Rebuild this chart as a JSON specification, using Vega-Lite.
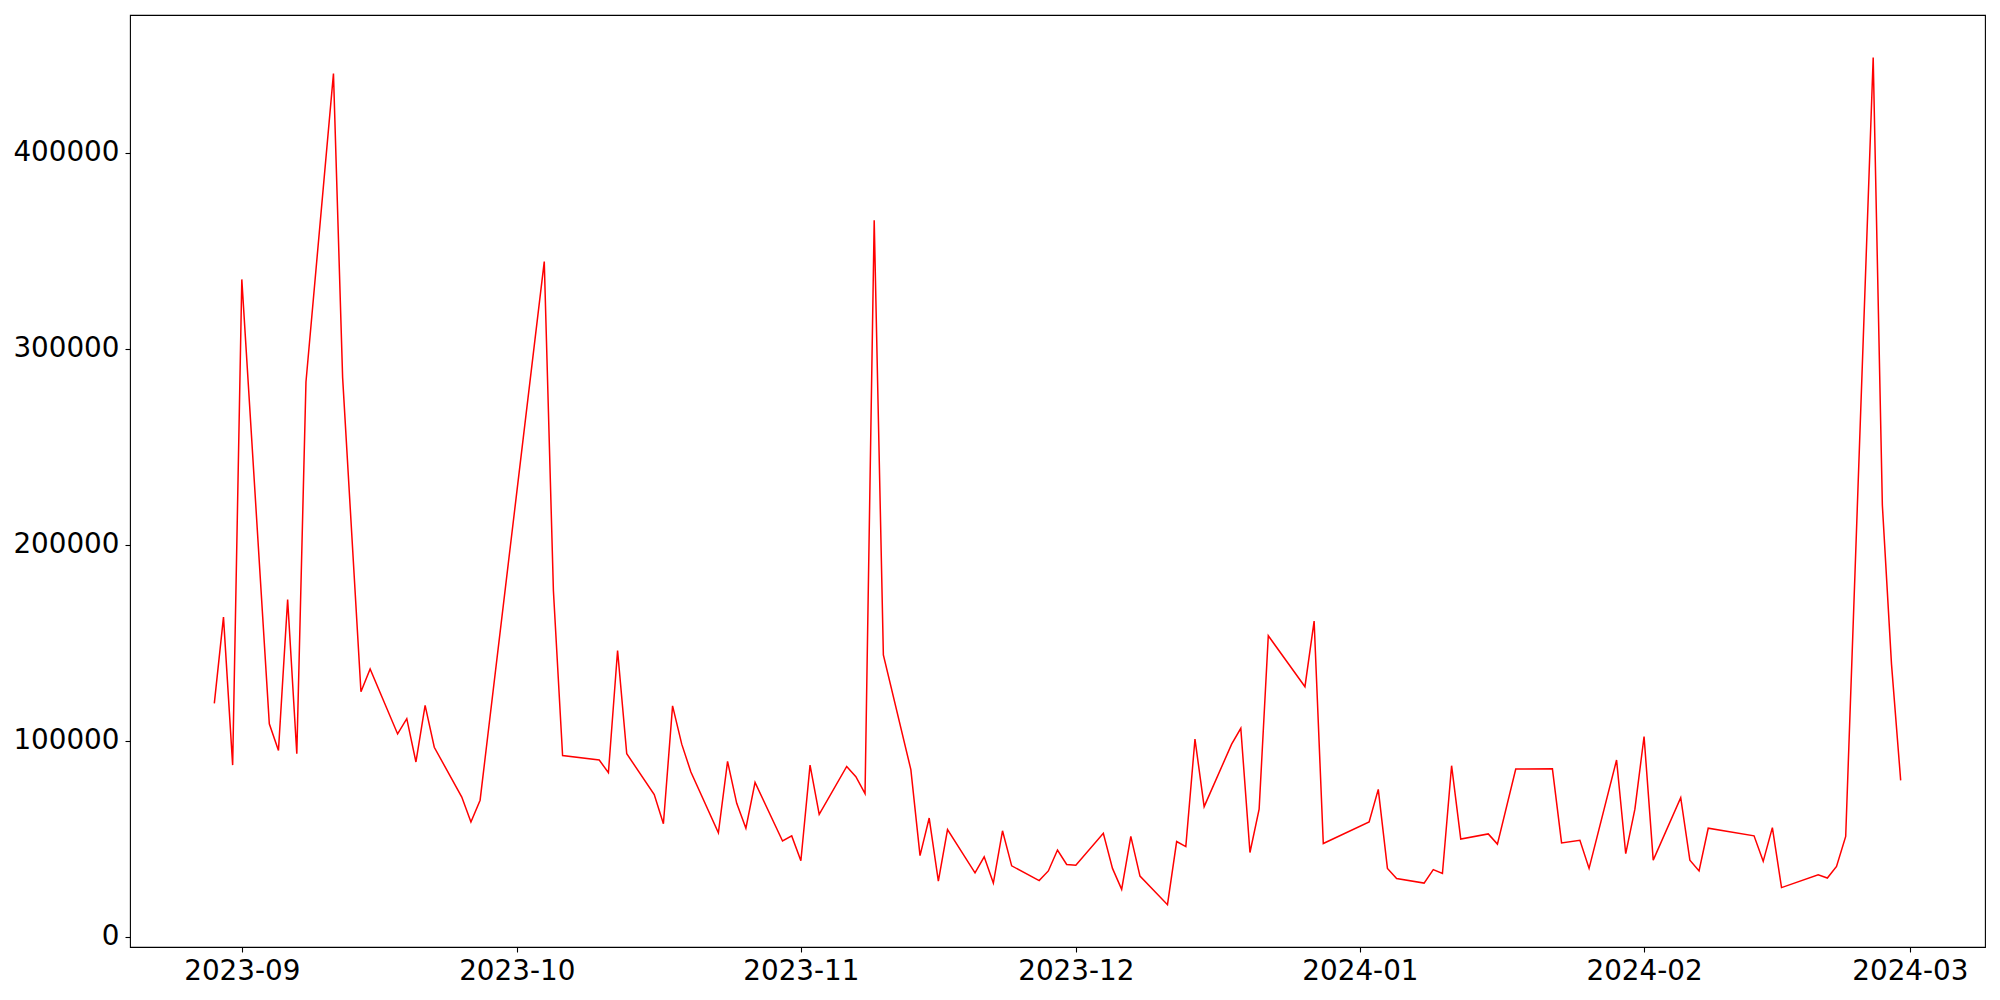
{
  "$schema": "https://vega.github.io/schema/vega-lite/v6.json",
  "width": 1855,
  "height": 932,
  "autosize": {"type": "none"},
  "padding": {"left": 130, "top": 15, "right": 15, "bottom": 53},
  "background": "white",
  "config": {
    "view": {"stroke": "black", "strokeWidth": 1.1},
    "axis": {
      "grid": false,
      "domain": false,
      "labelFont": "DejaVu Sans",
      "labelFontSize": 27.8,
      "labelColor": "black",
      "tickColor": "black",
      "tickWidth": 1.1,
      "tickSize": 5,
      "title": null
    }
  },
  "data": {
    "values": [
      {"date": "2023-08-29", "value": 119000},
      {"date": "2023-08-30", "value": 163000},
      {"date": "2023-08-31", "value": 87500},
      {"date": "2023-09-01", "value": 335300},
      {"date": "2023-09-04", "value": 108600},
      {"date": "2023-09-05", "value": 95000},
      {"date": "2023-09-06", "value": 172000},
      {"date": "2023-09-07", "value": 93300},
      {"date": "2023-09-08", "value": 283000},
      {"date": "2023-09-11", "value": 440300},
      {"date": "2023-09-12", "value": 285200},
      {"date": "2023-09-14", "value": 124900},
      {"date": "2023-09-15", "value": 136600},
      {"date": "2023-09-18", "value": 103400},
      {"date": "2023-09-19", "value": 111200},
      {"date": "2023-09-20", "value": 89100},
      {"date": "2023-09-21", "value": 118000},
      {"date": "2023-09-22", "value": 96600},
      {"date": "2023-09-25", "value": 71200},
      {"date": "2023-09-26", "value": 58500},
      {"date": "2023-09-27", "value": 69600},
      {"date": "2023-10-04", "value": 344400},
      {"date": "2023-10-05", "value": 176300},
      {"date": "2023-10-06", "value": 92400},
      {"date": "2023-10-10", "value": 90100},
      {"date": "2023-10-11", "value": 83600},
      {"date": "2023-10-12", "value": 146000},
      {"date": "2023-10-13", "value": 93300},
      {"date": "2023-10-16", "value": 72500},
      {"date": "2023-10-17", "value": 57600},
      {"date": "2023-10-18", "value": 117700},
      {"date": "2023-10-19", "value": 98200},
      {"date": "2023-10-20", "value": 84000},
      {"date": "2023-10-23", "value": 53000},
      {"date": "2023-10-24", "value": 89400},
      {"date": "2023-10-25", "value": 68000},
      {"date": "2023-10-26", "value": 55300},
      {"date": "2023-10-27", "value": 78700},
      {"date": "2023-10-30", "value": 48800},
      {"date": "2023-10-31", "value": 51400},
      {"date": "2023-11-01", "value": 38700},
      {"date": "2023-11-02", "value": 87500},
      {"date": "2023-11-03", "value": 62400},
      {"date": "2023-11-06", "value": 86800},
      {"date": "2023-11-07", "value": 81600},
      {"date": "2023-11-08", "value": 72900},
      {"date": "2023-11-09", "value": 365500},
      {"date": "2023-11-10", "value": 143700},
      {"date": "2023-11-13", "value": 85200},
      {"date": "2023-11-14", "value": 41300},
      {"date": "2023-11-15", "value": 60500},
      {"date": "2023-11-16", "value": 28300},
      {"date": "2023-11-17", "value": 54600},
      {"date": "2023-11-20", "value": 32500},
      {"date": "2023-11-21", "value": 40700},
      {"date": "2023-11-22", "value": 27300},
      {"date": "2023-11-23", "value": 54000},
      {"date": "2023-11-24", "value": 36100},
      {"date": "2023-11-27", "value": 28600},
      {"date": "2023-11-28", "value": 33500},
      {"date": "2023-11-29", "value": 44200},
      {"date": "2023-11-30", "value": 36800},
      {"date": "2023-12-01", "value": 36400},
      {"date": "2023-12-04", "value": 52700},
      {"date": "2023-12-05", "value": 34800},
      {"date": "2023-12-06", "value": 24100},
      {"date": "2023-12-07", "value": 51100},
      {"date": "2023-12-08", "value": 30900},
      {"date": "2023-12-11", "value": 16300},
      {"date": "2023-12-12", "value": 48500},
      {"date": "2023-12-13", "value": 45900},
      {"date": "2023-12-14", "value": 100800},
      {"date": "2023-12-15", "value": 66300},
      {"date": "2023-12-18", "value": 98200},
      {"date": "2023-12-19", "value": 106300},
      {"date": "2023-12-20", "value": 42900},
      {"date": "2023-12-21", "value": 65000},
      {"date": "2023-12-22", "value": 153500},
      {"date": "2023-12-26", "value": 127500},
      {"date": "2023-12-27", "value": 161000},
      {"date": "2023-12-28", "value": 47500},
      {"date": "2024-01-02", "value": 58500},
      {"date": "2024-01-03", "value": 75100},
      {"date": "2024-01-04", "value": 34800},
      {"date": "2024-01-05", "value": 29600},
      {"date": "2024-01-08", "value": 27300},
      {"date": "2024-01-09", "value": 34200},
      {"date": "2024-01-10", "value": 32200},
      {"date": "2024-01-11", "value": 87200},
      {"date": "2024-01-12", "value": 49800},
      {"date": "2024-01-15", "value": 52400},
      {"date": "2024-01-16", "value": 47200},
      {"date": "2024-01-18", "value": 85500},
      {"date": "2024-01-19", "value": 85500},
      {"date": "2024-01-22", "value": 85600},
      {"date": "2024-01-23", "value": 47800},
      {"date": "2024-01-25", "value": 49100},
      {"date": "2024-01-26", "value": 34800},
      {"date": "2024-01-29", "value": 90100},
      {"date": "2024-01-30", "value": 42300},
      {"date": "2024-01-31", "value": 65000},
      {"date": "2024-02-01", "value": 102100},
      {"date": "2024-02-02", "value": 39000},
      {"date": "2024-02-05", "value": 70900},
      {"date": "2024-02-06", "value": 39000},
      {"date": "2024-02-07", "value": 33500},
      {"date": "2024-02-08", "value": 55300},
      {"date": "2024-02-13", "value": 51400},
      {"date": "2024-02-14", "value": 38400},
      {"date": "2024-02-15", "value": 55600},
      {"date": "2024-02-16", "value": 25000},
      {"date": "2024-02-20", "value": 31500},
      {"date": "2024-02-21", "value": 29900},
      {"date": "2024-02-22", "value": 35800},
      {"date": "2024-02-23", "value": 51100},
      {"date": "2024-02-26", "value": 448500},
      {"date": "2024-02-27", "value": 220200},
      {"date": "2024-02-28", "value": 138900},
      {"date": "2024-02-29", "value": 79700}
    ]
  },
  "mark": {"type": "line", "color": "red", "strokeWidth": 1.5, "clip": true},
  "encoding": {
    "x": {
      "field": "date",
      "type": "temporal",
      "scale": {"type": "utc", "domain": [1692472320000, 1709959680000], "nice": false},
      "axis": {
        "values": [
          {"year": 2023, "month": 9, "date": 1, "utc": true},
          {"year": 2023, "month": 10, "date": 1, "utc": true},
          {"year": 2023, "month": 11, "date": 1, "utc": true},
          {"year": 2023, "month": 12, "date": 1, "utc": true},
          {"year": 2024, "month": 1, "date": 1, "utc": true},
          {"year": 2024, "month": 2, "date": 1, "utc": true},
          {"year": 2024, "month": 3, "date": 1, "utc": true}
        ],
        "format": "%Y-%m",
        "labelPadding": 5,
        "labelFlush": false,
        "labelOverlap": false
      }
    },
    "y": {
      "field": "value",
      "type": "quantitative",
      "scale": {"domain": [-5300, 470200], "nice": false, "zero": false},
      "axis": {
        "values": [0, 100000, 200000, 300000, 400000],
        "format": "d",
        "labelPadding": 6
      }
    }
  }
}
